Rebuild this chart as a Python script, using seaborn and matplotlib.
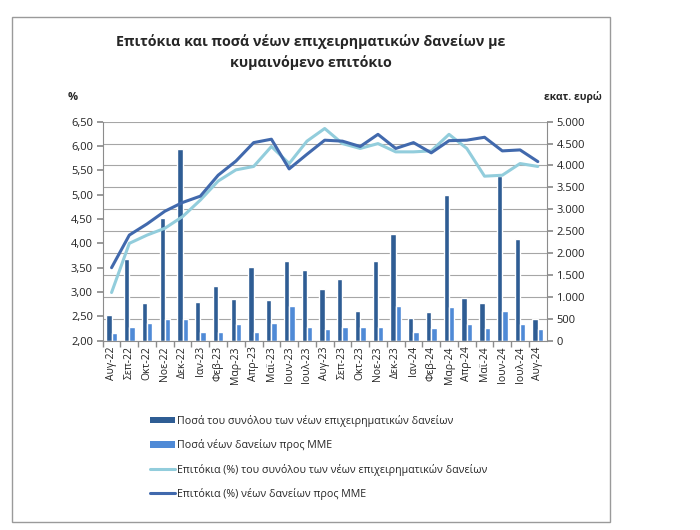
import numpy as np
import pandas as pd
import matplotlib
matplotlib.use("Agg")
import matplotlib.pyplot as plt
from matplotlib.ticker import FuncFormatter
from matplotlib.patches import Rectangle, Patch
from matplotlib.lines import Line2D
import seaborn as sns

# Data
months = ["Αυγ-22", "Σεπ-22", "Οκτ-22", "Νοε-22", "Δεκ-22", "Ιαν-23", "Φεβ-23",
          "Μαρ-23", "Απρ-23", "Μαϊ-23", "Ιουν-23", "Ιουλ-23", "Αυγ-23", "Σεπ-23",
          "Οκτ-23", "Νοε-23", "Δεκ-23", "Ιαν-24", "Φεβ-24", "Μαρ-24", "Απρ-24",
          "Μαϊ-24", "Ιουν-24", "Ιουλ-24", "Αυγ-24"]

# amounts, million euro (right axis)
total_amount = [586, 1857, 852, 2808, 4376, 890, 1248, 951, 1682, 928, 1819, 1613,
                1180, 1408, 685, 1819, 2428, 510, 662, 3326, 967, 852, 3760, 2321, 495]
sme_amount = [167, 304, 396, 495, 495, 205, 205, 373, 205, 411, 791, 320,
              266, 304, 320, 320, 791, 205, 297, 761, 373, 297, 685, 373, 266]

# interest rates, % (left axis)
total_rate = [2.99, 4.00, 4.17, 4.31, 4.55, 4.89, 5.28, 5.51, 5.58, 5.99, 5.64, 6.10,
              6.36, 6.05, 5.95, 6.05, 5.88, 5.88, 5.90, 6.24, 5.95, 5.38, 5.40, 5.64, 5.58]
sme_rate = [3.50, 4.17, 4.40, 4.66, 4.84, 4.97, 5.40, 5.69, 6.07, 6.14, 5.53, 5.83,
            6.12, 6.10, 5.99, 6.24, 5.95, 6.07, 5.86, 6.11, 6.12, 6.18, 5.90, 5.92, 5.68]

lbl_total_amt = "Ποσά του συνόλου των νέων επιχειρηματικών δανείων"
lbl_sme_amt = "Ποσά νέων δανείων προς ΜΜΕ"
lbl_total_rate = "Επιτόκια (%) του συνόλου των νέων επιχειρηματικών δανείων"
lbl_sme_rate = "Επιτόκια (%) νέων δανείων προς ΜΜΕ"

c_dark_bar = "#2f5d94"
c_light_bar = "#4f8ad6"
c_light_line = "#92cddc"
c_dark_line = "#4169ad"
c_grid = "#a6a6a6"
c_axis = "#8c8c8c"

sns.set_theme(style="white")
plt.rcParams["font.family"] = ["Open Sans", "DejaVu Sans"]

bars = pd.DataFrame({
    "month": months * 2,
    "series": [lbl_total_amt] * len(months) + [lbl_sme_amt] * len(months),
    "value": total_amount + sme_amount,
})
pos = np.arange(len(months))

fig = plt.figure(figsize=(7, 5.3), dpi=100)
ax = fig.add_axes([0.1467, 0.3572, 0.6343, 0.4132])

# bars on the main axes (right scale), lines on a twin (left scale)
sns.barplot(data=bars, x="month", y="value", hue="series",
            palette={lbl_total_amt: c_dark_bar, lbl_sme_amt: c_light_bar},
            width=0.6, gap=0, saturation=1, legend=False, ax=ax)
ax.set_xlim(-0.5, len(months) - 0.5)
ax.set_ylim(0, 5000)
ax.set_yticks(np.arange(0, 5001, 500))
ax.yaxis.set_major_formatter(FuncFormatter(lambda v, p: f"{int(v):,}".replace(",", ".")))
ax.yaxis.grid(True, color=c_grid, lw=0.8)
ax.set_axisbelow(True)
ax.set_xlabel("")
ax.set_ylabel("")

ax2 = ax.twinx()
sns.lineplot(x=pos, y=total_rate, color=c_light_line, lw=2.2, ax=ax2)
sns.lineplot(x=pos, y=sme_rate, color=c_dark_line, lw=2.2, ax=ax2)
ax2.set_ylim(2, 6.5)
ax2.set_yticks(np.arange(2, 6.51, 0.5))
ax2.yaxis.set_major_formatter(FuncFormatter(lambda v, p: f"{v:.2f}".replace(".", ",")))

# twinx resets sides, so swap them afterwards
ax.yaxis.tick_right()
ax2.yaxis.tick_left()

for a in (ax, ax2):
    for s in a.spines.values():
        s.set_visible(False)
for s in ("left", "right", "bottom"):
    ax.spines[s].set_visible(True)
    ax.spines[s].set_color(c_axis)
    ax.spines[s].set_linewidth(0.8)

ax.tick_params(axis="y", which="major", right=True, left=False, length=4, color=c_axis,
               labelsize=8, labelcolor="#222222", pad=3)
ax2.tick_params(axis="y", which="major", left=True, right=False, length=4, color=c_axis,
                labelsize=8, labelcolor="#222222", pad=3)
ax.tick_params(axis="x", which="major", length=0, labelsize=7.5, labelcolor="#222222",
               labelrotation=90, pad=4)
ax.set_xticks(pos - 0.5, minor=True)
ax.tick_params(axis="x", which="minor", bottom=True, length=4, color=c_axis)

# axis unit labels
fig.text(73 / 700, 1 - 97 / 530, "%", ha="center", va="center", fontsize=8, weight="bold")
fig.text(602 / 700, 1 - 97 / 530, "εκατ. ευρώ", ha="right", va="center", fontsize=7.5,
         weight="bold")

# title
fig.text(311 / 700, 1 - 52 / 530,
         "Επιτόκια και ποσά νέων επιχειρηματικών δανείων με\nκυμαινόμενο επιτόκιο",
         ha="center", va="center", fontsize=10.3, weight="bold", linespacing=1.55)

handles = [
    Patch(facecolor=c_dark_bar, edgecolor="none"),
    Patch(facecolor=c_light_bar, edgecolor="none"),
    Line2D([], [], color=c_light_line, lw=2.2),
    Line2D([], [], color=c_dark_line, lw=2.2),
]
fig.legend(handles, [lbl_total_amt, lbl_sme_amt, lbl_total_rate, lbl_sme_rate],
           loc="upper left", bbox_to_anchor=(150 / 700, 1 - 415 / 530),
           frameon=False, fontsize=7.7, labelspacing=1.15, handlelength=2.3,
           handleheight=0.5, handletextpad=0.2, borderpad=0, borderaxespad=0)

# outer chart frame
fig.patches.append(Rectangle((12 / 700, 1 - 522 / 530), 598 / 700, 505 / 530,
                             transform=fig.transFigure, fill=False,
                             edgecolor="#9a9a9a", lw=1))

fig.savefig("out.png", dpi=100)
